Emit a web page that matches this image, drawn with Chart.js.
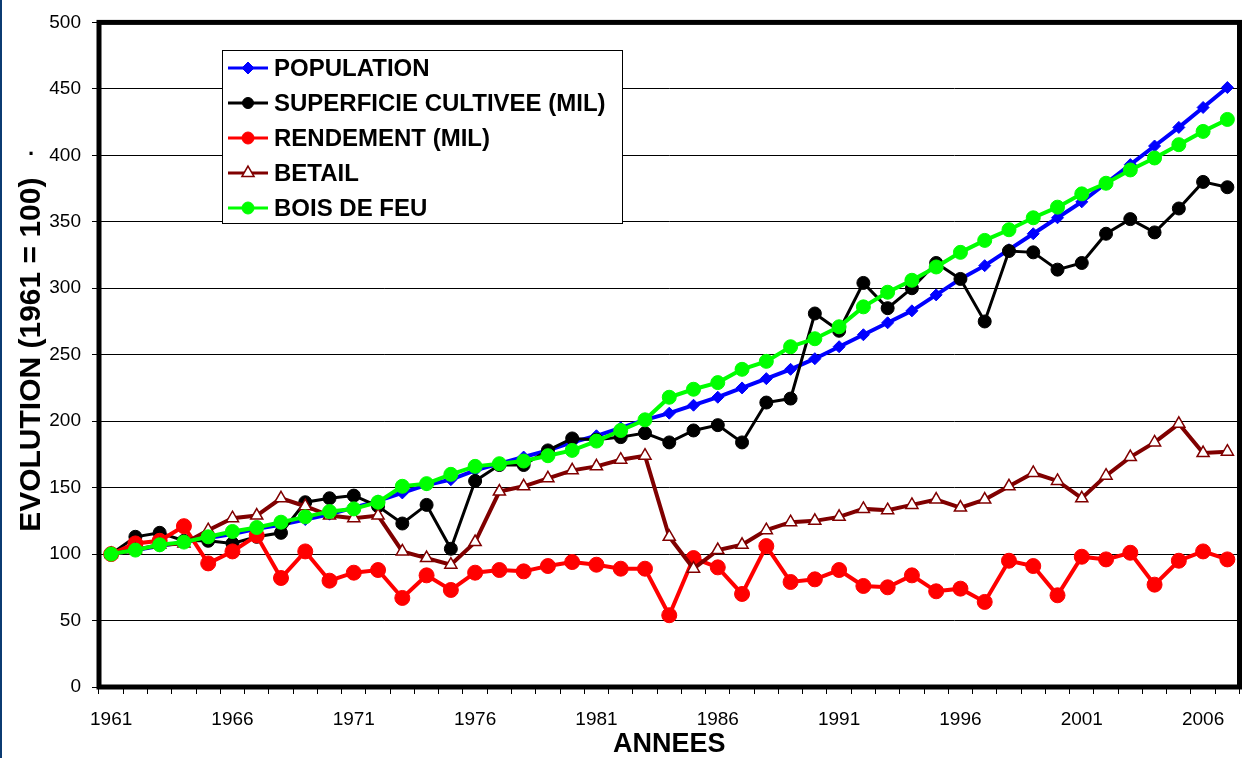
<!DOCTYPE html>
<html>
<head>
<meta charset="utf-8">
<script src="https://cdn.jsdelivr.net/npm/chart.js@4.4.1/dist/chart.umd.min.js"></script>
<style>
  html, body { margin: 0; padding: 0; background: #fff; }
  #wrap { width: 1248px; height: 758px; position: relative; }
</style>
</head>
<body>
<div id="wrap"><canvas id="evolution-chart" width="1248" height="758"></canvas></div>
<script>
// years 1961 .. 2007, index 1961 = 100
const years = [1961, 1962, 1963, 1964, 1965, 1966, 1967, 1968, 1969, 1970,
  1971, 1972, 1973, 1974, 1975, 1976, 1977, 1978, 1979, 1980,
  1981, 1982, 1983, 1984, 1985, 1986, 1987, 1988, 1989, 1990,
  1991, 1992, 1993, 1994, 1995, 1996, 1997, 1998, 1999, 2000,
  2001, 2002, 2003, 2004, 2005, 2006, 2007];

const population = [100, 103, 106, 109, 112, 115, 119, 122, 126, 130,
  135, 140, 146, 152, 156, 163, 168, 173, 178, 184,
  189, 195, 201, 206, 212, 218, 225, 232, 239, 247,
  256, 265, 274, 283, 295, 307, 317, 329, 341, 353,
  365, 379, 393, 407, 421, 436, 451];

const superficieMil = [100, 113, 116, 110, 110, 108, 113, 116, 139, 142,
  144, 136, 123, 137, 104, 155, 167, 167, 178, 187,
  186, 188, 191, 184, 193, 197, 184, 214, 217, 281,
  268, 304, 285, 300, 319, 307, 275, 328, 327, 314,
  319, 341, 352, 342, 360, 380, 376];

const rendementMil = [100, 108, 110, 121, 93, 102, 114, 82, 102, 80,
  86, 88, 67, 84, 73, 86, 88, 87, 91, 94,
  92, 89, 89, 54, 97, 90, 70, 106, 79, 81,
  88, 76, 75, 84, 72, 74, 64, 95, 91, 69,
  98, 96, 101, 77, 95, 102, 96];

const betail = [100, 103, 107, 108, 118, 127, 129, 142, 136, 129,
  127, 129, 102, 97, 92, 109, 147, 151, 157, 163,
  166, 171, 174, 113, 89, 103, 107, 118, 124, 125,
  128, 134, 133, 137, 141, 135, 141, 151, 161, 155,
  142, 159, 173, 184, 198, 176, 177];

const boisDeFeu = [100, 103, 107, 109, 113, 117, 120, 124, 128, 132,
  134, 139, 151, 153, 160, 166, 168, 170, 174, 178,
  185, 193, 201, 218, 224, 229, 239, 245, 256, 262,
  271, 286, 297, 306, 316, 327, 336, 344, 353, 361,
  371, 379, 389, 398, 408, 418, 427];

const yTicks = [0, 50, 100, 150, 200, 250, 300, 350, 400, 450, 500];

const FONT = '"Liberation Sans", Arial, Helvetica, sans-serif';

// border box round the plot, left strip, stray dot, and the legend box
const framePlugin = {
  id: 'frame',
  beforeDraw(chart) {
    const ctx = chart.ctx;
    ctx.save();
    ctx.fillStyle = '#0b3b72';
    ctx.fillRect(0, 0, 2, chart.height);
    ctx.restore();
  },
  afterDatasetsDraw(chart) {
    const { ctx, chartArea: a } = chart;
    ctx.save();
    ctx.strokeStyle = '#000';
    ctx.lineWidth = 5;
    ctx.strokeRect(a.left, a.top, a.right - a.left, a.bottom - a.top);
    ctx.restore();
  },
  afterDraw(chart) {
    const ctx = chart.ctx;
    ctx.save();
    ctx.fillStyle = '#000';
    ctx.font = 'bold 22px ' + FONT;
    ctx.textAlign = 'center';
    ctx.textBaseline = 'alphabetic';
    ctx.fillText('.', 31, 155);

    // legend
    const bx = 222, by = 50, bw = 400, bh = 173;
    ctx.fillStyle = '#fff';
    ctx.fillRect(bx, by, bw, bh);
    ctx.strokeStyle = '#000';
    ctx.lineWidth = 1;
    ctx.strokeRect(bx + 0.5, by + 0.5, bw, bh);
    ctx.font = 'bold 24px ' + FONT;
    ctx.textAlign = 'left';
    ctx.textBaseline = 'middle';
    chart.data.datasets.forEach((ds, i) => {
      const y = 68 + i * 35;
      ctx.strokeStyle = ds.borderColor;
      ctx.lineWidth = 3;
      ctx.beginPath();
      ctx.moveTo(228, y);
      ctx.lineTo(268, y);
      ctx.stroke();
      ctx.fillStyle = ds.pointBackgroundColor;
      ctx.strokeStyle = ds.pointBorderColor;
      ctx.lineWidth = ds.pointBorderWidth;
      Chart.helpers.drawPoint(ctx, {
        pointStyle: ds.pointStyle,
        radius: ds.legendRadius,
        rotation: 0,
        borderWidth: ds.pointBorderWidth
      }, 248, y);
      ctx.fillStyle = '#000';
      ctx.fillText(ds.label, 274, y + 1);
    });
    ctx.restore();
  }
};

const data = {
  labels: years,
  datasets: [
    {
      label: 'POPULATION',
      data: population,
      borderColor: '#0000ff',
      backgroundColor: '#0000ff',
      pointBackgroundColor: '#0000ff',
      pointBorderColor: '#0000ff',
      pointBorderWidth: 1,
      pointStyle: 'rectRot',
      pointRadius: 6,
      legendRadius: 6,
      borderWidth: 4,
      order: 5
    },
    {
      label: 'SUPERFICIE CULTIVEE (MIL)',
      data: superficieMil,
      borderColor: '#000000',
      backgroundColor: '#000000',
      pointBackgroundColor: '#000000',
      pointBorderColor: '#000000',
      pointBorderWidth: 1,
      pointStyle: 'circle',
      pointRadius: 6.5,
      legendRadius: 5.5,
      borderWidth: 3,
      order: 4
    },
    {
      label: 'RENDEMENT (MIL)',
      data: rendementMil,
      borderColor: '#ff0000',
      backgroundColor: '#ff0000',
      pointBackgroundColor: '#ff0000',
      pointBorderColor: '#ff0000',
      pointBorderWidth: 1,
      pointStyle: 'circle',
      pointRadius: 7.5,
      legendRadius: 6,
      borderWidth: 4,
      order: 3
    },
    {
      label: 'BETAIL',
      data: betail,
      borderColor: '#800000',
      backgroundColor: '#ffffff',
      pointBackgroundColor: '#ffffff',
      pointBorderColor: '#800000',
      pointBorderWidth: 1.5,
      pointStyle: 'triangle',
      pointRadius: 7,
      legendRadius: 7,
      borderWidth: 4,
      order: 2
    },
    {
      label: 'BOIS DE FEU',
      data: boisDeFeu,
      borderColor: '#00ff00',
      backgroundColor: '#00ff00',
      pointBackgroundColor: '#00ff00',
      pointBorderColor: '#00ff00',
      pointBorderWidth: 1,
      pointStyle: 'circle',
      pointRadius: 7,
      legendRadius: 6,
      borderWidth: 4,
      order: 1
    }
  ]
};

const options = {
  responsive: false,
  animation: false,
  layout: { padding: { top: 22, right: 5, left: 0, bottom: 0 } },
  elements: { line: { tension: 0 } },
  plugins: {
    legend: { display: false },
    tooltip: { enabled: false }
  },
  scales: {
    x: {
      type: 'category',
      offset: true,
      border: { display: false },
      grid: {
        offset: true,
        drawOnChartArea: false,
        drawTicks: true,
        tickLength: 7,
        color: '#000',
        lineWidth: 1
      },
      ticks: {
        autoSkip: false,
        maxRotation: 0,
        minRotation: 0,
        padding: 14,
        color: '#000',
        font: { family: FONT, size: 19 },
        callback: (v, i) => (i % 5 === 0 ? String(years[i]) : '')
      },
      title: {
        display: true,
        text: 'ANNEES',
        color: '#000',
        font: { family: FONT, size: 27, weight: 'bold', lineHeight: 1 },
        padding: { top: 0, bottom: 0 }
      },
      afterFit: (s) => { s.height = 71; }
    },
    y: {
      min: 0,
      max: 500,
      border: { display: false },
      afterBuildTicks: (s) => { s.ticks = yTicks.map(v => ({ value: v })); },
      grid: {
        drawOnChartArea: true,
        drawTicks: true,
        tickLength: 7,
        color: '#000',
        lineWidth: 1
      },
      ticks: {
        padding: 11,
        color: '#000',
        font: { family: FONT, size: 19 }
      },
      title: {
        display: true,
        text: 'EVOLUTION (1961 = 100)',
        color: '#000',
        font: { family: FONT, size: 30, weight: 'bold' },
        padding: { top: 14, bottom: 0 }
      },
      afterFit: (s) => { s.width = 99; }
    }
  }
};

new Chart('evolution-chart', {
  type: 'line',
  data: data,
  options: options,
  plugins: [framePlugin]
});
</script>
</body>
</html>
